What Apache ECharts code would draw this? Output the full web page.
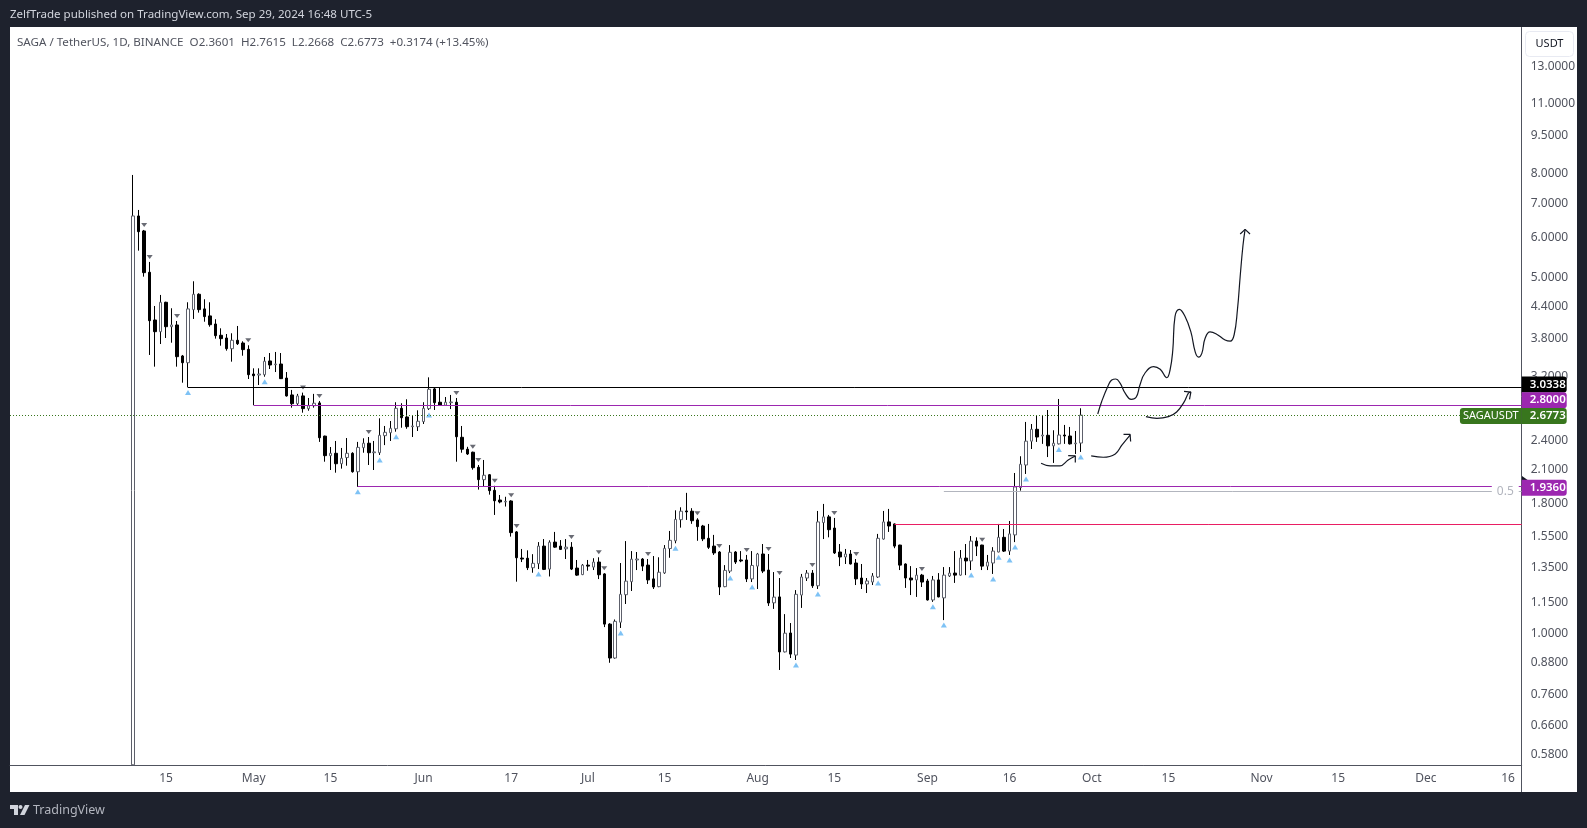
<!DOCTYPE html>
<html>
<head>
<meta charset="utf-8">
<title>SAGA / TetherUS</title>
<script src="https://cdn.jsdelivr.net/npm/echarts@6/dist/echarts.min.js"></script>
<style>
    html, body { margin: 0; padding: 0; background: #1e222d; }
    #panel { position: absolute; left: 10px; top: 27px; width: 1567px; height: 765px; background: #fff; }
    #chart { position: absolute; left: 0; top: 0; width: 1587px; height: 828px; }
</style>
</head>
<body>
<div id="panel"></div>
<div id="chart"></div>
<script>
// x axis counts daily candles, candle 0 is this day
var firstDay = '2024-04-09';
var axisStart = -22.5;
var axisEnd = 253.5;

// daily candles: open, close, low, high
var ohlc = [
    // April
    [0.551, 6.587, 0.551, 7.928], [6.587, 6.135, 5.631, 6.768], [6.155, 5.098, 5.006, 6.183], [5.107, 4.103, 3.514, 5.351],
    [4.116, 3.904, 3.333, 4.385], [3.904, 4.459, 3.692, 4.609], [4.459, 3.993, 3.794, 4.47], [3.993, 4.024, 3.714, 4.340],
    [4.024, 3.487, 3.333, 4.097], [3.498, 3.393, 3.100, 3.514], [3.393, 4.327, 3.034, 4.459], [4.313, 4.623, 4.135, 4.903],
    [4.623, 4.313, 4.255, 4.644], [4.327, 4.179, 4.084, 4.520], [4.192, 4.029, 3.993, 4.459], [4.042, 3.834, 3.783, 4.130],
    [3.841, 3.783, 3.664, 3.964], [3.794, 3.615, 3.583, 3.863], [3.615, 3.755, 3.409, 3.876], [3.755, 3.697, 3.676, 4.006],
    [3.709, 3.600, 3.502, 3.738], [3.605, 3.214, 3.152, 3.671],
    // May
    [3.224, 3.199, 2.800, 3.308], [3.209, 3.224, 3.068, 3.308], [3.214, 3.415, 3.185, 3.482], [3.420, 3.358, 3.298, 3.545],
    [3.363, 3.373, 3.253, 3.562], [3.373, 3.157, 3.152, 3.545], [3.166, 2.920, 2.911, 3.253], [2.933, 2.819, 2.769, 3.000],
    [2.819, 2.920, 2.794, 2.947], [2.920, 2.757, 2.707, 2.964], [2.757, 2.794, 2.731, 2.893], [2.794, 2.825, 2.769, 2.947],
    [2.829, 2.417, 2.372, 2.854], [2.435, 2.229, 2.169, 2.440], [2.229, 2.253, 2.089, 2.318], [2.253, 2.149, 2.064, 2.382],
    [2.149, 2.203, 2.102, 2.308], [2.210, 2.253, 2.130, 2.414], [2.253, 2.073, 2.064, 2.264], [2.073, 2.314, 1.936, 2.372],
    [2.311, 2.358, 2.259, 2.411], [2.358, 2.259, 2.137, 2.425], [2.259, 2.267, 2.089, 2.382], [2.259, 2.444, 2.236, 2.639],
    [2.440, 2.477, 2.338, 2.549], [2.473, 2.522, 2.382, 2.607], [2.517, 2.761, 2.484, 2.838], [2.761, 2.646, 2.529, 2.825],
    [2.655, 2.541, 2.517, 2.876], [2.541, 2.549, 2.425, 2.671], [2.541, 2.604, 2.492, 2.736],
    // June
    [2.600, 2.761, 2.572, 2.838], [2.757, 3.009, 2.740, 3.176], [3.014, 2.832, 2.740, 3.027], [2.838, 2.799, 2.795, 3.027],
    [2.799, 2.838, 2.790, 2.906], [2.832, 2.841, 2.752, 2.933], [2.838, 2.428, 2.169, 2.893], [2.422, 2.295, 2.259, 2.549],
    [2.295, 2.246, 2.236, 2.320], [2.264, 2.111, 2.092, 2.270], [2.115, 2.000, 1.912, 2.137], [2.000, 2.040, 1.936, 2.186],
    [2.045, 1.903, 1.869, 2.05], [1.906, 1.818, 1.705, 1.945], [1.824, 1.808, 1.797, 1.866], [1.808, 1.813, 1.771, 1.851],
    [1.816, 1.574, 1.546, 1.822], [1.579, 1.405, 1.261, 1.585], [1.403, 1.397, 1.378, 1.462], [1.402, 1.343, 1.329, 1.453],
    [1.343, 1.370, 1.313, 1.428], [1.368, 1.481, 1.335, 1.508], [1.481, 1.333, 1.329, 1.529], [1.335, 1.507, 1.291, 1.520],
    [1.508, 1.474, 1.470, 1.579], [1.481, 1.459, 1.455, 1.522], [1.463, 1.474, 1.397, 1.529], [1.474, 1.335, 1.329, 1.508],
    [1.341, 1.299, 1.295, 1.391], [1.302, 1.359, 1.299, 1.366],
    // July
    [1.359, 1.353, 1.325, 1.391], [1.347, 1.378, 1.329, 1.402], [1.378, 1.301, 1.276, 1.408], [1.306, 1.041, 1.027, 1.31],
    [1.041, 0.893, 0.874, 1.045], [0.893, 1.054, 0.890, 1.063], [1.050, 1.191, 1.023, 1.372], [1.189, 1.264, 1.140, 1.515],
    [1.261, 1.396, 1.209, 1.448], [1.391, 1.397, 1.329, 1.442], [1.397, 1.353, 1.323, 1.403], [1.359, 1.271, 1.248, 1.397],
    [1.277, 1.231, 1.220, 1.416], [1.233, 1.316, 1.230, 1.408], [1.312, 1.466, 1.306, 1.488], [1.465, 1.520, 1.405, 1.586],
    [1.517, 1.671, 1.500, 1.741], [1.669, 1.734, 1.610, 1.765], [1.736, 1.729, 1.667, 1.884], [1.734, 1.661, 1.638, 1.758],
    [1.667, 1.617, 1.517, 1.680], [1.622, 1.530, 1.515, 1.630], [1.534, 1.473, 1.462, 1.637], [1.481, 1.436, 1.423, 1.558],
    [1.442, 1.231, 1.187, 1.448], [1.233, 1.327, 1.230, 1.359], [1.323, 1.440, 1.311, 1.488], [1.442, 1.378, 1.366, 1.448],
    [1.391, 1.385, 1.377, 1.448], [1.391, 1.277, 1.259, 1.423], [1.277, 1.357, 1.259, 1.448],
    // August
    [1.353, 1.429, 1.220, 1.436], [1.429, 1.323, 1.311, 1.495], [1.329, 1.145, 1.130, 1.429], [1.146, 1.176, 1.115, 1.317],
    [1.177, 0.918, 0.846, 1.282], [0.918, 0.999, 0.916, 1.089], [1.000, 0.909, 0.893, 1.046], [0.905, 1.191, 0.885, 1.214],
    [1.187, 1.288, 1.120, 1.306], [1.282, 1.311, 1.265, 1.329], [1.311, 1.238, 1.226, 1.329], [1.238, 1.652, 1.220, 1.736],
    [1.647, 1.690, 1.529, 1.792], [1.690, 1.595, 1.541, 1.705], [1.607, 1.436, 1.429, 1.682], [1.442, 1.410, 1.353, 1.495],
    [1.410, 1.429, 1.366, 1.462], [1.429, 1.366, 1.363, 1.455], [1.372, 1.277, 1.242, 1.397], [1.282, 1.248, 1.220, 1.366],
    [1.248, 1.265, 1.198, 1.282], [1.259, 1.294, 1.242, 1.311], [1.288, 1.534, 1.282, 1.565], [1.529, 1.652, 1.525, 1.736],
    [1.652, 1.622, 1.579, 1.752], [1.637, 1.481, 1.467, 1.640], [1.488, 1.359, 1.329, 1.490], [1.366, 1.282, 1.226, 1.370],
    [1.282, 1.271, 1.187, 1.353], [1.271, 1.299, 1.177, 1.341], [1.299, 1.259, 1.231, 1.306],
    // September
    [1.265, 1.161, 1.158, 1.277], [1.161, 1.271, 1.151, 1.294], [1.271, 1.177, 1.175, 1.311], [1.172, 1.299, 1.060, 1.347],
    [1.294, 1.311, 1.288, 1.347], [1.311, 1.299, 1.254, 1.448], [1.299, 1.403, 1.296, 1.455], [1.403, 1.385, 1.299, 1.495],
    [1.385, 1.515, 1.329, 1.550], [1.515, 1.481, 1.416, 1.541], [1.488, 1.353, 1.329, 1.490], [1.353, 1.378, 1.329, 1.423],
    [1.372, 1.448, 1.306, 1.474], [1.442, 1.541, 1.440, 1.637], [1.541, 1.448, 1.442, 1.600], [1.448, 1.565, 1.423, 1.659],
    [1.558, 1.935, 1.508, 2.061], [1.930, 2.144, 1.903, 2.223], [2.137, 2.380, 2.052, 2.596], [2.380, 2.511, 2.297, 2.572],
    [2.511, 2.425, 2.372, 2.667], [2.436, 2.447, 2.351, 2.679], [2.444, 2.330, 2.215, 2.740], [2.330, 2.358, 2.157, 2.500],
    [2.351, 2.447, 2.345, 2.880], [2.447, 2.436, 2.351, 2.561], [2.436, 2.351, 2.344, 2.538], [2.352, 2.360, 2.246, 2.492],
    [2.3601, 2.6773, 2.2668, 2.7615]
];

// candles that carry a little triangle
var pivotLowIdx = [10, 24, 41, 45, 48, 54, 74, 89, 99, 109, 113, 121, 125, 136, 146, 148, 153, 157, 158, 160, 161, 163, 169, 173];
var pivotHighIdx = [2, 3, 8, 21, 31, 34, 43, 59, 62, 63, 66, 69, 70, 80, 85, 86, 94, 103, 107, 112, 116, 118, 124, 128, 132, 144, 155];

// price axis and date axis labels
var priceTicks = [13, 11, 9.5, 8, 7, 6, 5, 4.4, 3.8, 3.2, 2.4, 2.1, 1.8, 1.55, 1.35, 1.15, 1, 0.88, 0.76, 0.66, 0.58];
var priceMin = 0.5506;
var priceMax = 15.44;
var dateTicks = ['2024-04-15', '2024-05-01', '2024-05-15', '2024-06-01', '2024-06-17', '2024-07-01', '2024-07-15', '2024-08-01',
    '2024-08-15', '2024-09-01', '2024-09-16', '2024-10-01', '2024-10-15', '2024-11-01', '2024-11-15', '2024-12-01', '2024-12-16'];
var dateTickNames = ['15', 'May', '15', 'Jun', '17', 'Jul', '15', 'Aug', '15', 'Sep', '16', 'Oct', '15', 'Nov', '15', 'Dec', '16'];

// drawn levels: tag price, price the line is drawn at, candle it starts from
var lastPrice = 2.6773, lastPriceLine = 2.6725;
var levelBlack = 3.0338, levelBlackFrom = 10;
var levelTop = 2.8, levelTopLine = 2.7962, levelTopFrom = 22;
var levelMid = 1.936, levelMidLine = 1.9391, levelMidFrom = 41;
var levelPink = 1.6337, levelPinkFrom = 139;
var fibHalf = 1.8957, fibHalfFrom = 148, fibHalfLabelAt = 250.5;

// hand drawn projections: [candle number, price]
var waveLine = [[176.1, 2.691], [176.8, 2.845], [178.05, 3.068], [178.65, 3.138], [179.4, 3.152], [180.2, 3.09], [181.1, 2.957],
    [182.2, 2.876], [183.1, 2.902], [183.8, 3.068], [184.7, 3.235], [186.3, 3.335], [187.5, 3.295], [188.7, 3.17], [189.3, 3.283],
    [189.8, 3.594], [190.2, 4.18], [191.0, 4.32], [192.0, 4.19], [193.1, 3.90], [193.9, 3.56], [194.5, 3.48], [195.1, 3.54],
    [195.7, 3.79], [196.6, 3.90], [197.8, 3.86], [199.35, 3.76], [200.3, 3.74], [201.0, 3.85], [201.6, 4.31], [202.1, 5.01],
    [202.6, 5.75], [203.0, 6.2]];
var waveHead = [[202.1, 6.07], [203.0, 6.2], [203.9, 6.07]];
var upperArrow = [[184.9, 2.659], [186.9, 2.638], [189.0, 2.659], [190.5, 2.716], [191.9, 2.845], [192.65, 2.957], [193.1, 2.97]];
var upperHead = [[191.85, 2.98], [193.1, 2.97], [192.85, 2.876]];
var middleArrow = [[174.9, 2.226], [177.1, 2.213], [179.3, 2.247], [180.5, 2.338], [182.0, 2.447]];
var middleHead = [[180.8, 2.455], [182.0, 2.455], [182.1, 2.376]];
var lowerArrow = [[165.75, 2.154], [167.4, 2.128], [169.2, 2.128], [170.7, 2.186], [172.0, 2.226]];
var lowerHead = [[170.7, 2.23], [172.0, 2.226], [172.0, 2.16]];

var uiFont = '"Noto Sans", sans-serif';
var DAY = 86400000;

function dayNumber(iso) {
    return Math.round((Date.parse(iso) - Date.parse(firstDay)) / DAY);
}

// wicks come from one series, bodies from a second one drawn on top
var wickData = ohlc.map(function (c, i) {
    return [i, c[0], c[1], c[2], c[3]];
});
var bodyData = ohlc.map(function (c, i) {
    return [i, c[0], c[1], Math.min(c[0], c[1]), Math.max(c[0], c[1])];
});
var pivotLows = pivotLowIdx.map(function (i) {
    return [i, ohlc[i][2]];
});
var pivotHighs = pivotHighIdx.map(function (i) {
    return [i, ohlc[i][3]];
});
var dateTickDays = dateTicks.map(dayNumber);

function levelLine(price, from, color, type) {
    return [
        {coord: [from, price], lineStyle: {color: color, width: 1, type: type || 'solid'}},
        {coord: [axisEnd, price]}
    ];
}

function priceTag(price, color, shift) {
    return {
        coord: [axisEnd, price],
        symbolSize: 0,
        label: {
            show: true,
            position: 'right',
            distance: 0,
            offset: [0, shift],
            formatter: price.toFixed(4),
            color: '#fff',
            fontFamily: uiFont,
            fontSize: 11.5,
            fontWeight: 600,
            backgroundColor: color,
            width: 33,
            height: 14,
            lineHeight: 14,
            padding: [1, 4, 1, 8],
            borderRadius: [0, 3, 3, 0]
        }
    };
}

function drawnPath(points, smooth) {
    return {
        type: 'line',
        data: points,
        smooth: smooth,
        showSymbol: false,
        silent: true,
        lineStyle: {color: '#131722', width: 1.2},
        z: 6
    };
}

var chart = echarts.init(document.getElementById('chart'));
chart.setOption({
    animation: false,
    title: [
        {
            text: 'ZelfTrade published on TradingView.com, Sep 29, 2024 16:48 UTC-5',
            left: 10, top: 9, padding: 0,
            textStyle: {color: '#d1d4dc', fontFamily: uiFont, fontSize: 11.55, fontWeight: 'normal'}
        },
        {
            text: 'SAGA / TetherUS, 1D, BINANCE  O2.3601  H2.7615  L2.2668  C2.6773  +0.3174 (+13.45%)',
            left: 17, top: 37, padding: 0,
            textStyle: {color: '#50535e', fontFamily: uiFont, fontSize: 11.6, fontWeight: 'normal'}
        }
    ],
    grid: {left: 10, top: 27.5, width: 1511.7, height: 737.5},
    xAxis: {
        type: 'value',
        min: axisStart,
        max: axisEnd,
        splitLine: {show: false},
        axisLine: {onZero: false, lineStyle: {color: '#50535e', width: 1}},
        axisTick: {show: false},
        axisLabel: {
            customValues: dateTickDays,
            formatter: function (value) {
                return dateTickNames[dateTickDays.indexOf(value)];
            },
            color: '#50535e',
            fontFamily: uiFont,
            fontSize: 12,
            margin: 8
        }
    },
    yAxis: {
        type: 'log',
        position: 'right',
        min: priceMin,
        max: priceMax,
        splitLine: {show: false},
        axisLine: {show: true, onZero: false, lineStyle: {color: '#50535e', width: 1}},
        axisTick: {show: false},
        axisLabel: {
            customValues: priceTicks,
            formatter: function (value) {
                return value.toFixed(4);
            },
            color: '#50535e',
            fontFamily: uiFont,
            fontSize: 12,
            margin: 9,
            verticalAlign: 'top',
            lineHeight: 2
        }
    },
    series: [
        {
            type: 'candlestick',
            name: 'wicks',
            data: wickData,
            barWidth: 1,
            silent: true,
            itemStyle: {color: '#000', color0: '#000', borderColor: '#000', borderColor0: '#000', borderWidth: 1}
        },
        {
            type: 'candlestick',
            name: 'SAGAUSDT',
            data: bodyData,
            barWidth: 3,
            silent: true,
            itemStyle: {color: '#fff', color0: '#000', borderColor: '#5d606b', borderColor0: '#000', borderWidth: 1},
            z: 3
        },
        {
            type: 'scatter',
            data: pivotLows,
            symbol: 'triangle',
            symbolSize: [6, 5],
            symbolOffset: [0, 5],
            silent: true,
            itemStyle: {color: '#5eb3f2'},
            z: 4
        },
        {
            type: 'scatter',
            data: pivotHighs,
            symbol: 'triangle',
            symbolRotate: 180,
            symbolSize: [6, 4],
            symbolOffset: [0, -5],
            silent: true,
            itemStyle: {color: '#434651'},
            z: 4
        },
        {
            // horizontal levels and their axis tags
            type: 'line',
            data: [],
            silent: true,
            markLine: {
                symbol: 'none',
                silent: true,
                label: {show: false},
                data: [
                    levelLine(lastPriceLine, axisStart, '#38761d', [1, 2]),
                    levelLine(levelBlack, levelBlackFrom, '#000'),
                    levelLine(levelTopLine, levelTopFrom, '#9c27b0'),
                    levelLine(levelMidLine, levelMidFrom, '#9c27b0'),
                    levelLine(levelPink, levelPinkFrom, '#e91e63'),
                    levelLine(fibHalf, fibHalfFrom, '#b2b5be')
                ]
            },
            markPoint: {
                symbol: 'rect',
                silent: true,
                data: [
                    priceTag(levelBlack, '#000', -3),
                    priceTag(levelTop, '#9c27b0', -5),
                    priceTag(lastPrice, '#38761d', 1),
                    priceTag(levelMid, '#9c27b0', 1),
                    {
                        coord: [axisEnd, lastPrice],
                        symbolSize: 0,
                        label: {
                            show: true,
                            position: 'left',
                            distance: 0,
                            offset: [0, 1],
                            formatter: 'SAGAUSDT',
                            color: '#fff',
                            fontFamily: uiFont,
                            fontSize: 11,
                            backgroundColor: '#38761d',
                            height: 14,
                            lineHeight: 14,
                            padding: [1, 3, 1, 3],
                            borderRadius: [3, 0, 0, 3]
                        }
                    },
                    {
                        coord: [fibHalfLabelAt, fibHalf],
                        symbolSize: 0,
                        label: {
                            show: true,
                            position: 'inside',
                            formatter: '0.5',
                            color: '#b2b5be',
                            fontFamily: uiFont,
                            fontSize: 12,
                            backgroundColor: '#fff',
                            padding: [0, 5, 0, 5]
                        }
                    }
                ]
            },
            z: 5
        },
        drawnPath(waveLine, 0.45),
        drawnPath(waveHead, false),
        drawnPath(upperArrow, 0.4),
        drawnPath(upperHead, false),
        drawnPath(middleArrow, 0.4),
        drawnPath(middleHead, false),
        drawnPath(lowerArrow, 0.4),
        drawnPath(lowerHead, false)
    ],
    graphic: [
        // axis line continues through the date strip
        {type: 'line', silent: true, shape: {x1: 1521.5, y1: 765, x2: 1521.5, y2: 792}, style: {stroke: '#50535e', lineWidth: 1}},
        // currency button
        {type: 'rect', silent: true, shape: {x: 1525.5, y: 31.5, width: 48, height: 25, r: 4}, style: {fill: '#fff', stroke: '#e8eaf2', lineWidth: 1}},
        {type: 'text', silent: true, style: {x: 1549.5, y: 44, text: 'USDT', fill: '#131722', font: '11px ' + uiFont, align: 'center', verticalAlign: 'middle'}},
        // small pointer on the axis
        {type: 'polygon', silent: true, shape: {points: [[1522, 476], [1522, 486], [1529, 481]]}, style: {fill: '#131722'}},
        // TradingView mark and name
        {type: 'polygon', silent: true, shape: {points: [[10, 805], [18, 805], [18, 815], [14, 815], [14, 809], [10, 809]]}, style: {fill: '#d1d4dc'}},
        {type: 'circle', silent: true, shape: {cx: 20.5, cy: 807, r: 2}, style: {fill: '#d1d4dc'}},
        {type: 'polygon', silent: true, shape: {points: [[25, 805], [29.5, 805], [24.5, 815], [20, 815]]}, style: {fill: '#d1d4dc'}},
        {type: 'text', silent: true, style: {x: 33, y: 810, text: 'TradingView', fill: '#b2b5be', font: '12.5px ' + uiFont, verticalAlign: 'middle'}}
    ]
});
</script>
</body>
</html>
